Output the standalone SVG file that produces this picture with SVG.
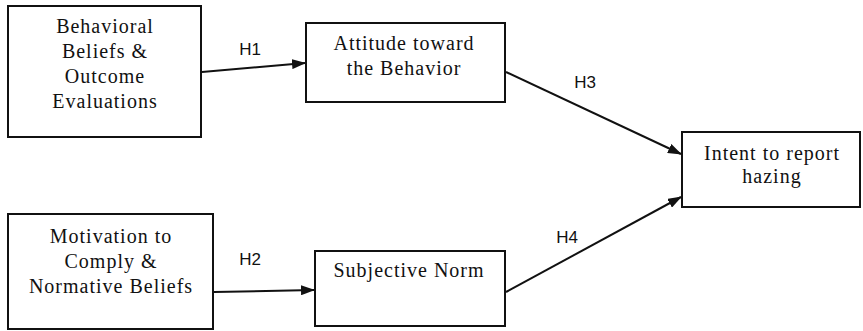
<svg xmlns="http://www.w3.org/2000/svg" width="863" height="331" viewBox="0 0 863 331">
<style>
.box{fill:#fff;stroke:#111;stroke-width:2}
.t{font-family:"Liberation Serif",serif;font-size:20px;letter-spacing:1px;text-anchor:middle;fill:#111}
.h{font-family:"Liberation Sans",Arial,sans-serif;font-size:17px;text-anchor:middle;fill:#111}
.c{stroke:#111;stroke-width:2;fill:none;marker-end:url(#arr)}
</style>
<defs>
<marker id="arr" markerWidth="14" markerHeight="10" refX="13" refY="5" orient="auto" markerUnits="userSpaceOnUse">
<path d="M0,0 L14,5 L0,10 Z" fill="#111"/>
</marker>
</defs>
<rect width="863" height="331" fill="#fff"/>
<g id="connectors">
<line class="c" x1="202" y1="72" x2="305" y2="63"/>
<line class="c" x1="214" y1="292" x2="314" y2="290"/>
<line class="c" x1="506" y1="72" x2="681" y2="154"/>
<line class="c" x1="506" y1="292" x2="681" y2="197"/>
<text class="h" x="250" y="55">H1</text>
<text class="h" x="250" y="265">H2</text>
<text class="h" x="585" y="88">H3</text>
<text class="h" x="567" y="243">H4</text>
</g>
<g id="behavioral">
<rect class="box" x="8" y="6" width="193" height="131"/>
<text class="t" x="105" y="33">Behavioral</text>
<text class="t" x="105" y="58">Beliefs &amp;</text>
<text class="t" x="105" y="83">Outcome</text>
<text class="t" x="105" y="108">Evaluations</text>
</g>
<g id="attitude">
<rect class="box" x="306" y="23" width="199" height="79"/>
<text class="t" x="404" y="50">Attitude toward</text>
<text class="t" x="404" y="75">the Behavior</text>
</g>
<g id="intent">
<rect class="box" x="682" y="132" width="178" height="75"/>
<text class="t" x="772" y="160">Intent to report</text>
<text class="t" x="772" y="183">hazing</text>
</g>
<g id="motivation">
<rect class="box" x="8" y="214" width="205" height="115"/>
<text class="t" x="111" y="243">Motivation to</text>
<text class="t" x="111" y="268">Comply &amp;</text>
<text class="t" x="111" y="293">Normative Beliefs</text>
</g>
<g id="norm">
<rect class="box" x="315" y="251" width="190" height="75"/>
<text class="t" x="409" y="277">Subjective Norm</text>
</g>
</svg>
